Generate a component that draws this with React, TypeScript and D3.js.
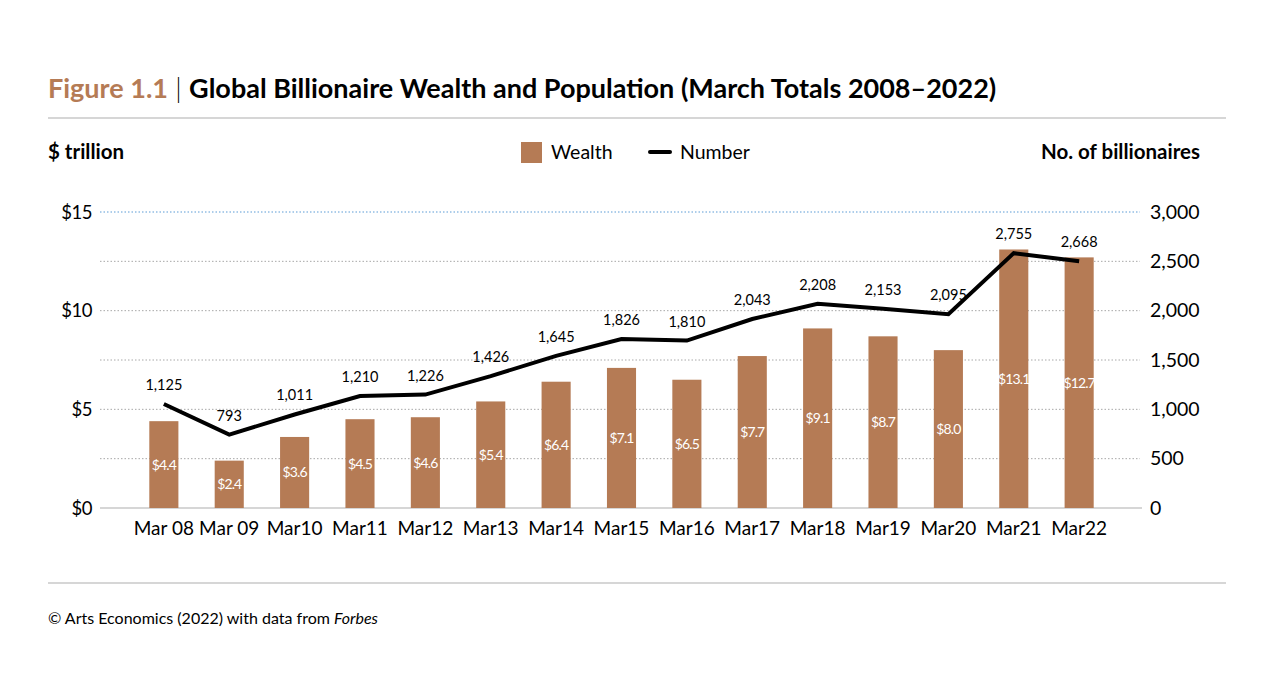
import React from "react";
import * as d3 from "d3";

const categories = ["Mar 08", "Mar 09", "Mar10", "Mar11", "Mar12", "Mar13", "Mar14", "Mar15", "Mar16", "Mar17", "Mar18", "Mar19", "Mar20", "Mar21", "Mar22"];
const wealth = [4.4, 2.4, 3.6, 4.5, 4.6, 5.4, 6.4, 7.1, 6.5, 7.7, 9.1, 8.7, 8.0, 13.1, 12.7];
const numberOfBillionaires = [1125, 793, 1011, 1210, 1226, 1426, 1645, 1826, 1810, 2043, 2208, 2153, 2095, 2755, 2668];
const leftTicks = [0, 5, 10, 15];
const rightTicks = [0, 500, 1000, 1500, 2000, 2500, 3000];
const gridTicks = [0, 2.5, 5, 7.5, 10, 12.5, 15];

const W = 1280;
const H = 687;
const FONT = "Lato, 'Noto Sans', sans-serif";
const BROWN = "#b57b55";

export default function App() {
  const plotTop = 212;
  const plotBottom = 508;
  const x = d3.scaleBand<string>().domain(categories).range([131, 1112]).paddingInner(0.555).paddingOuter(0.28);
  const yL = d3.scaleLinear().domain([0, 15]).range([plotBottom, plotTop]);
  const yR = d3.scaleLinear().domain([0, 3000]).range([plotBottom, plotTop]);
  // the line in the original is drawn on a hidden axis slightly taller than the visible one
  const yLine = d3.scaleLinear().domain([0, 3200]).range([plotBottom, plotTop]);
  const cx = (c: string) => (x(c) as number) + x.bandwidth() / 2;
  const line = d3
    .line<number>()
    .x((_, i) => cx(categories[i]))
    .y((d) => yLine(d));
  const fmt = d3.format(",");

  return (
    <svg width={W} height={H} style={{ display: "block", position: "absolute", left: 0, top: 0 }} fontFamily={FONT}>
      <rect width={W} height={H} fill="#fff" />
      {/* Title */}
      <text x={48} y={98} fontSize={27} fontWeight={700}>
        <tspan fill={BROWN}>Figure 1.1</tspan>
        <tspan fill="#000" fontWeight={300}> | </tspan>
        <tspan fill="#000">Global Billionaire Wealth and Population (March Totals 2008–2022)</tspan>
      </text>
      <line x1={48} x2={1226} y1={118} y2={118} stroke="#c8c8c8" strokeWidth={1.5} />

      <text x={48} y={159} fontSize={20.5} fontWeight={700}>$ trillion</text>
      <text x={1200} y={159} fontSize={20.5} fontWeight={700} textAnchor="end">No. of billionaires</text>

      {/* Legend */}
      <rect x={521} y={142} width={21} height={21} fill={BROWN} />
      <text x={551} y={159} fontSize={19.5}>Wealth</text>
      <line x1={650} x2={670} y1={152} y2={152} stroke="#000" strokeWidth={4} strokeLinecap="round" />
      <text x={680} y={159} fontSize={19.5}>Number</text>

      {/* Grid */}
      {gridTicks.filter((t) => t > 0).map((t) => (
        <line key={t} x1={100} x2={1140} y1={yL(t)} y2={yL(t)} stroke={t === 15 ? "#5b9bd5" : "#a8a8a8"} strokeWidth={1} strokeDasharray="1.5 2" />
      ))}
      <line x1={100} x2={1142} y1={plotBottom} y2={plotBottom} stroke="#c8c8c8" strokeWidth={1.5} />

      {/* Left axis */}
      {leftTicks.map((t) => (
        <text key={t} x={92} y={yL(t) + 6.5} fontSize={18.5} textAnchor="end" letterSpacing={-0.5}>${t}</text>
      ))}
      {/* Right axis */}
      {rightTicks.map((t) => (
        <text key={t} x={1150} y={yR(t) + 6.5} fontSize={19.5}>{fmt(t)}</text>
      ))}

      {/* Bars */}
      {wealth.map((v, i) => (
        <g key={i}>
          <rect x={x(categories[i])} y={yL(v)} width={x.bandwidth()} height={plotBottom - yL(v)} fill={BROWN} />
          <text x={cx(categories[i])} y={(yL(v) + plotBottom) / 2 + 5} fontSize={14} fill="#fff" textAnchor="middle" letterSpacing={-0.9}>
            ${v.toFixed(1)}
          </text>
        </g>
      ))}

      {/* X labels */}
      {categories.map((c) => (
        <text key={c} x={cx(c)} y={535} fontSize={19} textAnchor="middle">{c}</text>
      ))}

      {/* Line */}
      <path d={line(numberOfBillionaires) || ""} fill="none" stroke="#000" strokeWidth={4} strokeLinejoin="miter" />
      {numberOfBillionaires.map((v, i) => (
        <text key={i} x={cx(categories[i])} y={yLine(v) - 14} fontSize={14.5} textAnchor="middle">{fmt(v)}</text>
      ))}

      {/* Footer */}
      <line x1={48} x2={1226} y1={583} y2={583} stroke="#c8c8c8" strokeWidth={1.5} />
      <text x={48} y={624} fontSize={16}>
        © Arts Economics (2022) with data from <tspan fontStyle="italic">Forbes</tspan>
      </text>
    </svg>
  );
}
